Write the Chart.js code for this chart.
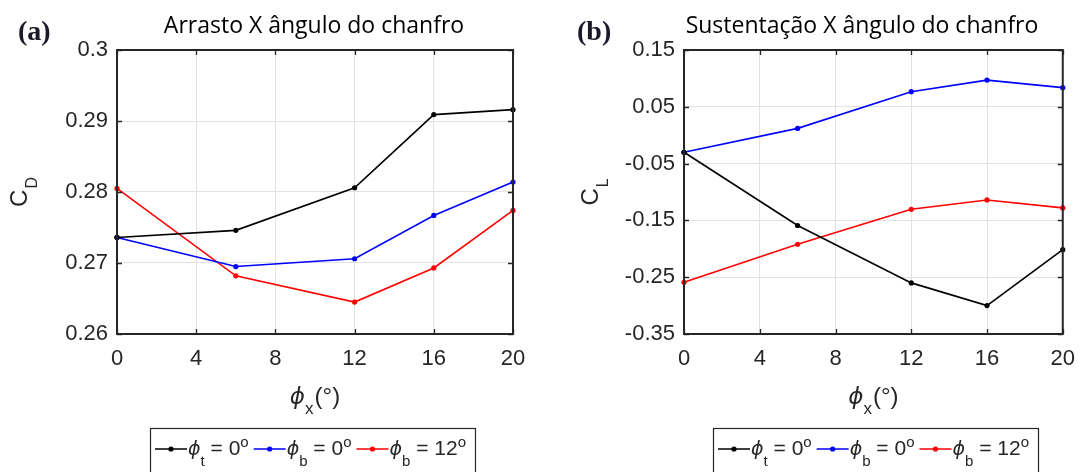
<!DOCTYPE html>
<html>
<head>
<meta charset="utf-8">
<script src="https://cdn.jsdelivr.net/npm/chart.js@4/dist/chart.umd.min.js"></script>
<style>
  html, body { margin: 0; padding: 0; background: #fff; }
  #wrap { position: relative; width: 1087px; height: 472px; overflow: hidden; }
  .pane { position: absolute; top: 0; }
  #pa { left: 0; }
  #pb { left: 543px; }
</style>
</head>
<body>
<div id="wrap">
  <div class="pane" id="pa"><canvas id="ca" width="543" height="472"></canvas></div>
  <div class="pane" id="pb"><canvas id="cb" width="544" height="472"></canvas></div>
</div>
<script>
// Chamfer angle (degrees) where each configuration was evaluated
const chamferAngles = [0, 6, 12, 16, 20];
const xTicks = [0, 4, 8, 12, 16, 20];

// Drag coefficient C_D
const dragTop0 = [0.2736, 0.2746, 0.2806, 0.2909, 0.2916];
const dragBottom0 = [0.2736, 0.2695, 0.2706, 0.2767, 0.2814];
const dragBottom12 = [0.2805, 0.2682, 0.2645, 0.2693, 0.2774];
const dragTicks = [0.26, 0.27, 0.28, 0.29, 0.3];

// Lift coefficient C_L
const liftTop0 = [-0.030, -0.159, -0.260, -0.300, -0.2015];
const liftBottom0 = [-0.030, 0.012, 0.0766, 0.097, 0.0837];
const liftBottom12 = [-0.259, -0.192, -0.1305, -0.114, -0.128];
const liftTicks = [-0.35, -0.25, -0.15, -0.05, 0.05, 0.15];

// Legend entries: ϕ with subscript, value in degrees
const legendSubs = ['t', 'b', 'b'];
const legendValues = ['0', '0', '12'];
const seriesColors = ['#000000', '#0000ff', '#ff0000'];

const INK = '#262626';
const SANS = '"Liberation Sans", Arial, sans-serif';
const PHI = '"DejaVu Sans", sans-serif';

function rich(ctx, parts, x, y) {
  // parts: [{t, font, dy}] drawn left to right from (x, y)
  let cx = x;
  for (const p of parts) {
    ctx.font = p.font;
    ctx.fillText(p.t, cx, y + (p.dy || 0));
    cx += ctx.measureText(p.t).width + (p.gap || 0);
  }
  return cx;
}

function richWidth(ctx, parts) {
  let w = 0;
  for (const p of parts) { ctx.font = p.font; w += ctx.measureText(p.t).width + (p.gap || 0); }
  return w;
}

const decorPlugin = {
  id: 'decor',
  afterDraw(chart, args, o) {
    const { ctx, chartArea: a, scales } = chart;
    ctx.save();

    // inward ticks on all four sides, then the box
    ctx.strokeStyle = INK;
    ctx.lineWidth = 1.3;
    ctx.beginPath();
    scales.x.ticks.forEach(t => {
      const p = Math.round(scales.x.getPixelForValue(t.value)) + 0.5;
      ctx.moveTo(p, a.bottom); ctx.lineTo(p, a.bottom - 5);
      ctx.moveTo(p, a.top); ctx.lineTo(p, a.top + 5);
    });
    scales.y.ticks.forEach(t => {
      const p = Math.round(scales.y.getPixelForValue(t.value)) + 0.5;
      ctx.moveTo(a.left, p); ctx.lineTo(a.left + 5, p);
      ctx.moveTo(a.right, p); ctx.lineTo(a.right - 5, p);
    });
    ctx.stroke();
    ctx.lineWidth = 2;
    ctx.strokeRect(a.left, a.top, a.right - a.left, a.bottom - a.top);

    // panel tag
    ctx.fillStyle = '#1a1a2a';
    ctx.textBaseline = 'alphabetic';
    ctx.textAlign = 'left';
    ctx.font = 'bold 28px "Liberation Serif", "Times New Roman", serif';
    ctx.fillText(o.tag, o.tagX, 40);

    // title
    ctx.fillStyle = '#000';
    ctx.textAlign = 'center';
    ctx.font = o.titleFont;
    ctx.fillText(o.title, o.titleX, 33);

    // y-axis title: C with subscript, rotated
    ctx.textAlign = 'left';
    ctx.fillStyle = INK;
    const yParts = [
      { t: 'C', font: '24px ' + SANS, gap: 1 },
      { t: o.ySub, font: '16px ' + SANS, dy: 10 }
    ];
    const yw = richWidth(ctx, yParts);
    ctx.save();
    ctx.translate(o.yTitleX, (a.top + a.bottom) / 2);
    ctx.rotate(-Math.PI / 2);
    rich(ctx, yParts, -yw / 2, 0);
    ctx.restore();

    // x-axis title: ϕ_x(°)
    const xParts = [
      { t: 'ϕ', font: 'italic 23px ' + PHI },
      { t: 'x', font: '17px ' + SANS, dy: 10, gap: 1 },
      { t: '(°)', font: '24px ' + SANS }
    ];
    const xw = richWidth(ctx, xParts);
    rich(ctx, xParts, (a.left + a.right) / 2 - xw / 2, 404);

    // legend
    const lx = o.legendX, ly = 428, midY = 449, base = 455;
    let cx = lx + 5;
    chart.data.datasets.forEach((ds, i) => {
      ctx.strokeStyle = ds.borderColor;
      ctx.lineWidth = 1.5;
      ctx.beginPath();
      ctx.moveTo(cx, midY); ctx.lineTo(cx + 32, midY);
      ctx.stroke();
      ctx.fillStyle = ds.borderColor;
      ctx.beginPath();
      ctx.arc(cx + 16, midY, 2.6, 0, Math.PI * 2);
      ctx.fill();
      cx += 33;
      ctx.fillStyle = INK;
      cx = rich(ctx, [
        { t: 'ϕ', font: 'italic 19px ' + PHI },
        { t: legendSubs[i], font: '15px ' + SANS, dy: 11 },
        { t: ' = ' + legendValues[i], font: '21px ' + SANS },
        { t: 'o', font: '15px ' + SANS, dy: -8 }
      ], cx, base);
      cx += 5;
    });
    ctx.strokeStyle = INK;
    ctx.lineWidth = 1.2;
    ctx.strokeRect(lx + 0.5, ly + 0.5, cx - lx + 4, 80);

    ctx.restore();
  }
};

function makeChart(id, series, ticks, cfg) {
  return new Chart(document.getElementById(id), {
    type: 'line',
    data: {
      datasets: series.map((vals, i) => ({
        data: chamferAngles.map((x, k) => ({ x: x, y: vals[k] })),
        borderColor: seriesColors[i],
        backgroundColor: seriesColors[i],
        borderWidth: 1.6,
        pointRadius: 2.6,
        pointHoverRadius: 2.6,
        pointBorderWidth: 0,
        tension: 0,
        clip: false
      }))
    },
    options: {
      responsive: false,
      animation: false,
      events: [],
      layout: { padding: { top: 50, right: cfg.padRight, left: 0, bottom: 0 } },
      plugins: {
        legend: { display: false },
        tooltip: { enabled: false },
        decor: cfg.decor
      },
      scales: {
        x: {
          type: 'linear',
          min: 0, max: 20,
          afterBuildTicks: s => { s.ticks = xTicks.map(v => ({ value: v })); },
          afterFit: s => { s.height = 138; },
          grid: { color: '#e2e2e2', lineWidth: 1, drawTicks: false },
          border: { display: false },
          ticks: { color: INK, font: { family: SANS, size: 22 }, padding: 12, callback: v => String(v) }
        },
        y: {
          type: 'linear',
          min: ticks[0], max: ticks[ticks.length - 1],
          afterBuildTicks: s => { s.ticks = ticks.map(v => ({ value: v })); },
          afterFit: s => { s.width = cfg.left; },
          grid: { color: '#e2e2e2', lineWidth: 1, drawTicks: false },
          border: { display: false },
          ticks: { color: INK, font: { family: SANS, size: 22 }, padding: 9, callback: v => String(v) }
        }
      }
    },
    plugins: [decorPlugin]
  });
}

makeChart('ca', [dragTop0, dragBottom0, dragBottom12], dragTicks, {
  left: 117, padRight: 30,
  decor: {
    tag: '(a)', tagX: 18,
    title: 'Arrasto X ângulo do chanfro', titleX: 314, titleFont: '23px "Open Sans", sans-serif',
    ySub: 'D', yTitleX: 27, legendX: 150
  }
});

makeChart('cb', [liftTop0, liftBottom0, liftBottom12], liftTicks, {
  left: 141, padRight: 16,
  decor: {
    tag: '(b)', tagX: 34,
    title: 'Sustentação X ângulo do chanfro', titleX: 319, titleFont: '23px "Open Sans", sans-serif',
    ySub: 'L', yTitleX: 55, legendX: 170
  }
});
</script>
</body>
</html>
